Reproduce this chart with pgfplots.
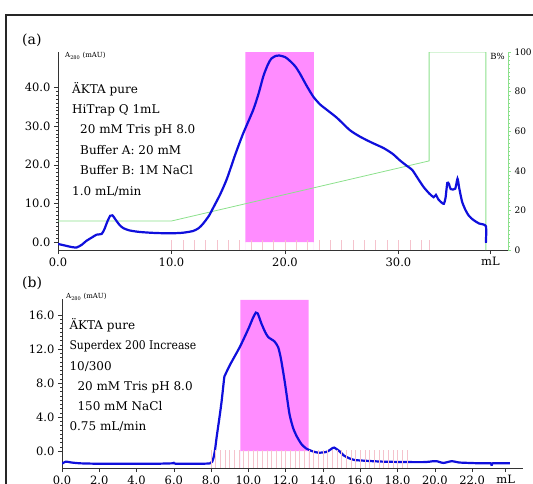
\documentclass[border=0pt]{standalone}
\usepackage{fontspec}
\setmainfont{DejaVu Serif}
\usepackage{pgfplots}
\pgfplotsset{compat=1.18}

\definecolor{trace}{RGB}{15,15,220}
\definecolor{pool}{RGB}{255,140,255}
\definecolor{gradc}{RGB}{140,225,140}
\definecolor{tube}{RGB}{245,195,205}

\pgfplotsset{
  chrom/.style={
    scale only axis,
    axis x line=bottom, axis y line=left,
    axis line style={-, black!80, line width=0.6pt},
    every outer x axis line/.append style={-},
    every outer y axis line/.append style={-},
    every inner x axis line/.append style={-},
    every inner y axis line/.append style={-},
    tick align=outside,
    major tick length=4pt, minor tick length=2pt,
    tick style={black!80, line width=0.5pt},
    /pgf/number format/assume math mode=true,
    tick label style={font=\fontsize{11.5}{13}\selectfont},
    yticklabel style={/pgf/number format/fixed, /pgf/number format/fixed zerofill, /pgf/number format/precision=1},
  },
  hidden/.style={scale only axis, hide axis, clip=true},
}

\newcommand{\txt}{\fontsize{12}{14}\selectfont}

\begin{document}
\begin{tikzpicture}
\useasboundingbox (0pt,0pt) rectangle (533pt,-483pt);

% frame
\draw[black!85, line width=2pt] (6pt,-490pt) -- (6pt,-15pt) -- (545pt,-15pt);

% ---------------- panel (a) ----------------
\begin{axis}[chrom, width=450pt, height=198pt, at={(58pt,-250pt)}, anchor=south west,
  xmin=0, xmax=39.65, ymin=-2.07, ymax=49.2,
  xtick={0,10,20,30,38.1}, xticklabels={0.0,10.0,20.0,30.0,mL},
  ytick={0,10,20,30,40}, minor y tick num=9]
  \addplot[fill=pool, draw=none] coordinates {(16.5,-2.07) (16.5,49.2) (22.55,49.2) (22.55,-2.07)} \closedcycle;
  \addplot[tube, only marks, mark=|, mark size=5pt, mark options={line width=0.6pt}] coordinates {
    (10,-0.8) (11,-0.8) (12,-0.8) (13,-0.8) (14,-0.8) (15,-0.8) (16,-0.8) (17,-0.8)
    (18,-0.8) (19,-0.8) (20,-0.8) (21,-0.8) (22,-0.8) (23,-0.8) (24,-0.8) (25,-0.8)
    (26,-0.8) (27,-0.8) (28,-0.8) (29,-0.8) (30,-0.8) (31,-0.8) (32,-0.8) (32.7,-0.8)};
\end{axis}

\begin{axis}[scale only axis, width=450pt, height=198pt, at={(58pt,-250pt)}, anchor=south west,
  xmin=0, xmax=39.65, ymin=0, ymax=100,
  axis x line=none, axis y line=right,
  axis line style={-, gradc, line width=0.8pt},
  every outer y axis line/.append style={-},
  ytick={0,20,...,100}, minor y tick num=9,
  tick align=outside, major tick length=3pt, minor tick length=1.5pt,
  tick style={gradc, line width=0.5pt},
  /pgf/number format/assume math mode=true,
  yticklabel style={font=\fontsize{9}{10}\selectfont, black}]
  \addplot[gradc, line width=0.8pt] coordinates {(0,14.6) (9.96,14.6) (32.7,45) (32.7,100) (37.7,100) (37.7,0)};
\end{axis}

\begin{axis}[hidden, width=450pt, height=198pt, at={(58pt,-250pt)}, anchor=south west,
  xmin=0, xmax=39.65, ymin=-2.07, ymax=49.2]
  \addplot[trace, line width=2.2pt, smooth, tension=0.4] coordinates {
    (0,-0.5) (0.6,-0.9) (1.2,-1.3) (1.65,-1.4) (2.1,-0.7) (2.5,0.3) (3.0,1.2) (3.4,1.9)
    (3.85,2.1) (4.1,3.4) (4.35,5.3) (4.6,6.8) (4.8,6.9) (5.0,6.1) (5.4,4.5) (5.75,3.6)
    (6.3,3.0) (7.2,2.6) (8.5,2.35) (9.9,2.25) (11.0,2.4) (11.9,2.85) (12.4,3.6) (12.8,4.8)
    (13.3,6.8) (13.7,9.0) (14.3,12.4) (14.9,16.5) (15.6,22.5) (16.3,28.0) (17.2,34.2)
    (17.7,38.7) (18.1,43.0) (18.5,46.0) (18.8,47.5) (19.2,48.2) (19.5,48.3) (20.0,47.9)
    (20.4,47.0) (20.9,45.5) (21.3,43.7) (21.9,40.5) (22.5,37.6) (23.1,35.6) (23.7,34.2)
    (24.6,32.1) (25.7,29.0) (26.6,27.3) (27.6,25.8) (28.7,24.3) (29.5,22.8) (30.1,21.2)
    (30.7,19.8) (31.2,18.7) (31.7,16.5) (32.2,14.3) (32.7,12.6) (33.1,11.6) (33.3,12.2)
    (33.5,11.1) (33.8,10.2) (34.0,9.9) (34.15,11.5) (34.3,15.3) (34.45,15.0) (34.6,13.7)
    (35.0,13.8) (35.2,16.4) (35.35,14.0) (35.6,10.5) (35.9,8.3) (36.2,6.8) (36.6,5.7)
    (37.1,4.8) (37.7,4.1) (37.7,-0.2)};
\end{axis}

\node[anchor=west, inner sep=0pt, font=\fontsize{14}{16}\selectfont] at (22pt,-40pt) {(a)};
\node[anchor=west, inner sep=0pt, font=\fontsize{7}{8}\selectfont] at (65pt,-56pt) {A\textsubscript{280} (mAU)};
\node[anchor=east, inner sep=0pt, font=\fontsize{8.5}{9}\selectfont] at (505pt,-56pt) {B\%};
\node[anchor=base west, inner sep=0pt, font=\txt] at (72pt,-93.3pt) {ÄKTA pure};
\node[anchor=base west, inner sep=0pt, font=\txt] at (72pt,-113.3pt) {HiTrap Q 1mL};
\node[anchor=base west, inner sep=0pt, font=\txt] at (80pt,-133.3pt) {20 mM Tris pH 8.0};
\node[anchor=base west, inner sep=0pt, font=\txt] at (80pt,-154pt) {Buffer A: 20 mM};
\node[anchor=base west, inner sep=0pt, font=\txt] at (80pt,-174.3pt) {Buffer B: 1M NaCl};
\node[anchor=base west, inner sep=0pt, font=\txt] at (72pt,-195pt) {1.0 mL/min};

% ---------------- panel (b) ----------------
\begin{axis}[chrom, width=461pt, height=169pt, at={(62pt,-468pt)}, anchor=south west,
  xmin=0, xmax=24.73, ymin=-2.0, ymax=17.9,
  xtick={0,2,4,6,8,10,12,14,16,18,20,22,23.8},
  xticklabels={0.0,2.0,4.0,6.0,8.0,10.0,12.0,14.0,16.0,18.0,20.0,22.0,mL},
  ytick={0,4,8,12,16}, minor y tick num=7]
  \addplot[fill=pool, draw=none] coordinates {(9.57,-2) (9.57,17.8) (13.23,17.8) (13.23,-2)} \closedcycle;
  \addplot[tube, only marks, mark=|, mark size=9pt, mark options={line width=0.6pt}] coordinates {
    (8.0,-0.95) (8.25,-0.95) (8.5,-0.95) (8.75,-0.95) (9.0,-0.95) (9.25,-0.95) (9.5,-0.95)
    (9.75,-0.95) (10.0,-0.95) (10.25,-0.95) (10.5,-0.95) (10.75,-0.95) (11.0,-0.95)
    (11.25,-0.95) (11.5,-0.95) (11.75,-0.95) (12.0,-0.95) (12.25,-0.95) (12.5,-0.95)
    (12.75,-0.95) (13.0,-0.95) (13.25,-0.95) (13.5,-0.95) (13.75,-0.95) (14.0,-0.95)
    (14.25,-0.95) (14.5,-0.95) (14.75,-0.95) (15.0,-0.95) (15.25,-0.95) (15.5,-0.95)
    (15.75,-0.95) (16.0,-0.95) (16.25,-0.95) (16.5,-0.95) (16.75,-0.95) (17.0,-0.95)
    (17.25,-0.95) (17.5,-0.95) (17.75,-0.95) (18.0,-0.95) (18.25,-0.95) (18.5,-0.95)};
  \addplot[trace, line width=2.2pt, smooth, tension=0.4] coordinates {
    (0,-1.5) (0.2,-1.25) (0.5,-1.35) (1,-1.45) (2,-1.5) (3,-1.5) (4,-1.5) (5,-1.5)
    (5.9,-1.45) (6,-1.4) (6.1,-1.5) (7,-1.5) (7.94,-1.45) (8.1,-1.0) (8.2,0.0) (8.3,1.7)
    (8.45,4.0) (8.57,6.0) (8.7,8.6) (8.74,8.9) (9.0,10.1) (9.55,12.3) (10.0,14.4)
    (10.25,15.7) (10.4,16.3) (10.5,16.2) (10.7,15.0) (10.9,14.0) (11.07,13.4) (11.4,12.9)
    (11.6,12.2) (11.75,10.8) (11.96,8.0) (12.2,4.4) (12.4,2.7) (12.6,1.7) (12.85,0.8)
    (13.1,0.3) (13.4,0.0) (13.75,-0.2) (14.2,-0.1) (14.45,0.25) (14.6,0.4) (14.9,-0.05)
    (15.1,-0.5) (15.4,-0.85) (15.7,-1.06) (16.3,-1.15) (17.2,-1.25) (18.5,-1.3) (19.5,-1.3)
    (19.9,-1.2) (20.1,-1.2) (20.46,-1.4) (20.9,-1.2) (21.3,-1.35) (21.8,-1.4) (22.5,-1.45)
    (23.0,-1.45) (23.05,-1.75) (23.1,-1.45) (24.03,-1.45)};
\end{axis}

\node[anchor=west, inner sep=0pt, font=\fontsize{14}{16}\selectfont] at (22pt,-283pt) {(b)};
\node[anchor=west, inner sep=0pt, font=\fontsize{7}{8}\selectfont] at (66pt,-297pt) {A\textsubscript{280} (mAU)};
\node[anchor=base west, inner sep=0pt, font=\txt] at (69.3pt,-329.3pt) {ÄKTA pure};
\node[anchor=base west, inner sep=0pt, font=\txt] at (69.3pt,-349.3pt) {\scalebox{0.9}[1]{Superdex 200 Increase}};
\node[anchor=base west, inner sep=0pt, font=\txt] at (69.3pt,-370pt) {10/300};
\node[anchor=base west, inner sep=0pt, font=\txt] at (77.3pt,-390.7pt) {20 mM Tris pH 8.0};
\node[anchor=base west, inner sep=0pt, font=\txt] at (77.3pt,-410pt) {150 mM NaCl};
\node[anchor=base west, inner sep=0pt, font=\txt] at (69.3pt,-430.7pt) {0.75 mL/min};
\end{tikzpicture}
\end{document}
